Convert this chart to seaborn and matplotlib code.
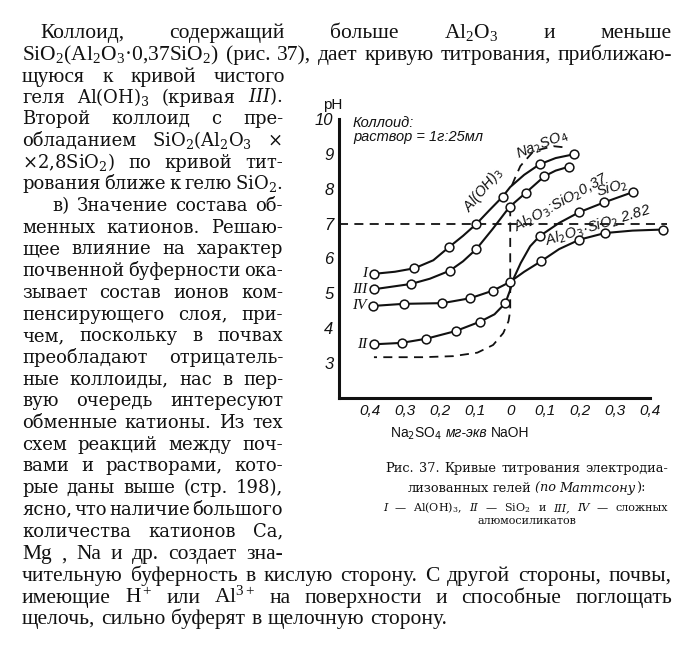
import numpy as np
import pandas as pd
import matplotlib
matplotlib.use('Agg')
import matplotlib.pyplot as plt
import seaborn as sns

W, H = 695, 645

# x: Na2SO4 side taken as negative, NaOH side positive (mg-eq)
# curve I  - Al(OH)3
mk_I_x = [-0.39, -0.274, -0.176, -0.097, -0.022, 0.084, 0.183]
mk_I_ph = [5.56, 5.72, 6.32, 6.99, 7.77, 8.70, 8.99]
ln_I_x = [-0.39, -0.33, -0.274, -0.22, -0.176, -0.135, -0.097, -0.06, -0.022, 0.0, 0.04, 0.084, 0.13, 0.183]
ln_I_ph = [5.56, 5.62, 5.72, 5.95, 6.32, 6.65, 6.99, 7.38, 7.77, 8.05, 8.40, 8.70, 8.88, 8.99]

# curve III - Al2O3:SiO2 0,37
mk_III_x = [-0.389, -0.284, -0.173, -0.097, -0.002, 0.044, 0.098, 0.167]
mk_III_ph = [5.12, 5.27, 5.65, 6.27, 7.48, 7.88, 8.36, 8.63]
ln_III_x = [-0.389, -0.284, -0.23, -0.173, -0.135, -0.097, -0.05, -0.002, 0.044, 0.098, 0.13, 0.167]
ln_III_ph = [5.12, 5.27, 5.42, 5.65, 5.92, 6.27, 6.85, 7.48, 7.88, 8.36, 8.52, 8.63]

# curve IV - Al2O3:SiO2 2,82
mk_IV_x = [-0.392, -0.305, -0.194, -0.115, -0.049, -0.002, 0.088, 0.198, 0.271, 0.436]
mk_IV_ph = [4.64, 4.70, 4.72, 4.86, 5.08, 5.32, 5.92, 6.54, 6.73, 6.83]
ln_IV_x = [-0.392, -0.305, -0.194, -0.115, -0.049, -0.002, 0.04, 0.088, 0.14, 0.198, 0.271, 0.35, 0.436]
ln_IV_ph = [4.64, 4.70, 4.72, 4.86, 5.08, 5.32, 5.62, 5.92, 6.27, 6.54, 6.73, 6.80, 6.83]

# curve II - SiO2
mk_II_x = [-0.39, -0.311, -0.24, -0.156, -0.086, -0.014, 0.084, 0.198, 0.269, 0.35]
mk_II_ph = [3.54, 3.58, 3.70, 3.92, 4.19, 4.72, 6.64, 7.33, 7.61, 7.90]
ln_II_x = [-0.39, -0.311, -0.24, -0.156, -0.086, -0.045, -0.014, 0.0, 0.008, 0.03, 0.057, 0.084, 0.14, 0.198, 0.269, 0.35]
ln_II_ph = [3.54, 3.58, 3.70, 3.92, 4.19, 4.40, 4.72, 5.10, 5.39, 5.87, 6.35, 6.64, 7.02, 7.33, 7.61, 7.90]

# dashed lines
na2so4_x = [0.005, 0.012, 0.029, 0.067, 0.124, 0.162]
na2so4_ph = [8.10, 8.27, 8.65, 9.08, 9.22, 9.18]
low_x = [0.0, 0.0, -0.005, -0.02, -0.049, -0.094, -0.163, -0.25, -0.39]
low_ph = [7.47, 4.50, 4.20, 3.86, 3.52, 3.30, 3.20, 3.17, 3.17]
neutral_x = [-0.49, 0.449]
neutral_ph = [7.0, 7.0]

xticks = [-0.4, -0.3, -0.2, -0.1, 0.0, 0.1, 0.2, 0.3, 0.4]
xtick_labels = ['0,4', '0,3', '0,2', '0,1', '0', '0,1', '0,2', '0,3', '0,4']
yticks = [3, 4, 5, 6, 7, 8, 9, 10]

sns.set_theme(style='white')
plt.rcParams['mathtext.fontset'] = 'custom'
plt.rcParams['mathtext.rm'] = 'Liberation Serif'
plt.rcParams['mathtext.it'] = 'Liberation Serif:italic'
plt.rcParams['font.family'] = ['Liberation Serif', 'DejaVu Serif']

CH = ['Liberation Sans Narrow', 'Liberation Sans', 'DejaVu Sans']
INK = '#111111'

fig = plt.figure(figsize=(W / 100, H / 100), dpi=100)
fig.patch.set_facecolor('white')
ax = fig.add_axes([339 / W, 1 - 398 / H, 311 / W, 279 / H])
ax.set_facecolor('none')

lines = pd.concat([
    pd.DataFrame({'x': ln_I_x, 'ph': ln_I_ph, 'curve': 'I'}),
    pd.DataFrame({'x': ln_III_x, 'ph': ln_III_ph, 'curve': 'III'}),
    pd.DataFrame({'x': ln_IV_x, 'ph': ln_IV_ph, 'curve': 'IV'}),
    pd.DataFrame({'x': ln_II_x, 'ph': ln_II_ph, 'curve': 'II'}),
])
marks = pd.concat([
    pd.DataFrame({'x': mk_I_x, 'ph': mk_I_ph}),
    pd.DataFrame({'x': mk_III_x, 'ph': mk_III_ph}),
    pd.DataFrame({'x': mk_IV_x, 'ph': mk_IV_ph}),
    pd.DataFrame({'x': mk_II_x, 'ph': mk_II_ph}),
])

sns.lineplot(data=lines, x='x', y='ph', units='curve', estimator=None, sort=False,
             color=INK, lw=1.5, ax=ax, clip_on=False)
dash = (0, (5, 3.5))
for dx, dy in [(na2so4_x, na2so4_ph), (low_x, low_ph), (neutral_x, neutral_ph)]:
    sns.lineplot(x=dx, y=dy, estimator=None, sort=False, color=INK, lw=1.3,
                 linestyle=dash, ax=ax, clip_on=False)
sns.scatterplot(data=marks, x='x', y='ph', color='white', edgecolor=INK, s=40,
                linewidth=1.1, zorder=4, clip_on=False, ax=ax)

ax.set_xlim(-0.49, 0.40)
ax.set_ylim(2, 10)
sns.despine(ax=ax)
for s in ['left', 'bottom']:
    ax.spines[s].set_linewidth(2.2)
    ax.spines[s].set_color(INK)
ax.set_xticks(xticks)
ax.set_xticklabels(xtick_labels, family=CH, style='italic', fontsize=11, color=INK)
ax.set_yticks(yticks)
ax.set_yticklabels([str(v) for v in yticks], family=CH, style='italic', fontsize=12, color=INK)
ax.tick_params(direction='in', length=4, width=1.2, color=INK, pad=4)
ax.set_xlabel('')
ax.set_ylabel('')

lab = dict(family=CH, style='italic', fontsize=10.5, color=INK, math_fontfamily='dejavusans')
ax.text(-0.45, 9.89, 'Коллоид:', ha='left', va='center', **lab)
ax.text(-0.45, 9.48, 'раствор = 1г:25мл', ha='left', va='center', **lab)
ax.text(0.092, 9.27, 'Na$_2$SO$_4$', ha='center', va='center', rotation=22, **lab)
ax.text(-0.078, 7.98, 'Al(OH)$_3$', ha='center', va='center', rotation=50, **lab)
ax.text(0.145, 7.6, 'Al$_2$O$_3$:SiO$_2$0,37', ha='center', va='center', rotation=29, **lab)
ax.text(0.29, 8.02, 'SiO$_2$', ha='center', va='center', rotation=16, **lab)
ax.text(0.25, 6.95, 'Al$_2$O$_3$·SiO$_2$ 2.82', ha='center', va='center', rotation=17, **lab)
for name, ypos in [('I', 5.58), ('III', 5.12), ('IV', 4.64), ('II', 3.52)]:
    ax.text(-0.41, ypos, name, ha='right', va='center', family=['Liberation Serif'],
            style='italic', fontsize=11, color=INK)

fig.text(333 / W, 1 - 105 / H, 'pH', ha='center', va='center', family=CH, fontsize=11, color=INK)

renderer = fig.canvas.get_renderer()


def text_line(words, x0, x1, yc, size, family, justify=True, center=False, math=None):
    # a word is a str, a (str, style) pair, or a list of those glued together
    groups = []
    for w in words:
        segs = w if isinstance(w, list) else [w]
        items = []
        for sg in segs:
            style = 'normal'
            if isinstance(sg, tuple):
                sg, style = sg
            t = fig.text(0, 0, sg, fontsize=size, family=family, style=style, va='baseline',
                         ha='left', color=INK, math_fontfamily=math)
            items.append((t, t.get_window_extent(renderer).width))
        groups.append(items)
    widths = [sum(wd for _, wd in g) for g in groups]
    space = size * 100 / 72 * 0.27
    if justify and len(groups) > 1:
        gap = (x1 - x0 - sum(widths)) / (len(groups) - 1)
    else:
        gap = space
    x = x0
    if center:
        x = (x0 + x1) / 2 - (sum(widths) + gap * (len(groups) - 1)) / 2
    yb = yc + 0.3 * size * 100 / 72
    for g in groups:
        for t, wd in g:
            t.set_position((x / W, 1 - yb / H))
            x += wd
        x += gap


TOP = ['Liberation Serif']
COL = ['DejaVu Serif']
body = 15.5
col = 13


def yline(i):
    return 32 + 21.7 * i


text_line('Коллоид, содержащий больше Al$_2$O$_3$ и меньше'.split(), 40, 672, yline(0), body, TOP)
text_line('SiO$_2$(Al$_2$O$_3$·0,37SiO$_2$) (рис. 37), дает кривую титрования, приближаю-'.split(),
          22, 672, yline(1), body, TOP)
text_line('щуюся к кривой чистого'.split(), 22, 285, yline(2), body, TOP)

col_lines = [
    ['геля', 'Al(OH)$_3$', '(кривая', '$\\mathit{III}$).'],
    'Второй коллоид с пре-'.split(),
    'обладанием SiO$_2$(Al$_2$O$_3$ ×'.split(),
    '×2,8SiO$_2$) по кривой тит-'.split(),
    'рования ближе к гелю SiO$_2$.'.split(),
    'в) Значение состава об-'.split(),
    'менных катионов. Решаю-'.split(),
    'щее влияние на характер'.split(),
    'почвенной буферности ока-'.split(),
    'зывает состав ионов ком-'.split(),
    'пенсирующего слоя, при-'.split(),
    'чем, поскольку в почвах'.split(),
    'преобладают отрицатель-'.split(),
    'ные коллоиды, нас в пер-'.split(),
    'вую очередь интересуют'.split(),
    'обменные катионы. Из тех'.split(),
    'схем реакций между поч-'.split(),
    'вами и растворами, кото-'.split(),
    'рые даны выше (стр. 198),'.split(),
    'ясно, что наличие большого'.split(),
    'количества катионов Ca,'.split(),
]
for k, words in enumerate(col_lines):
    x0 = 52 if k == 5 else 22
    text_line(words, x0, 283, yline(3 + k), col, COL, math='dejavuserif')

text_line('Mg , Na и др. создает зна-'.split(), 22, 283, yline(24), body, TOP)
text_line('чительную буферность в кислую сторону. С другой стороны, почвы,'.split(),
          22, 672, yline(25), body, TOP)
text_line('имеющие H$^+$ или Al$^{3+}$ на поверхности и способные поглощать'.split(),
          22, 672, yline(26), body, TOP)
text_line('щелочь, сильно буферят в щелочную сторону.'.split(), 22, 672, yline(27), body, TOP,
          justify=False)

# x axis caption under the chart
text_line(['Na$_2$SO$_4$', ('мг-экв', 'italic'), 'NaOH'], 390, 527, 433, 10, CH,
          justify=False, math='dejavusans')

# figure caption
text_line('Рис. 37. Кривые титрования электродиа-'.split(), 385, 668, 468, 9.3, COL,
          math='dejavuserif')
text_line(['лизованных', 'гелей', [('(по ', 'italic'), ('Маттсону', 'italic'), '):']], 385, 668,
          488, 9.3, COL, justify=False, center=True, math='dejavuserif')
text_line([('I', 'italic'), '—', 'Al(OH)$_3$,', ('II', 'italic'), '—', 'SiO$_2$', 'и',
           ('III,', 'italic'), ('IV', 'italic'), '—', 'сложных'], 383, 668, 508, 8, COL,
          math='dejavuserif')
text_line(['алюмосиликатов'], 385, 668, 521, 8, COL, justify=False, center=True,
          math='dejavuserif')

fig.savefig('out.png', dpi=100)
